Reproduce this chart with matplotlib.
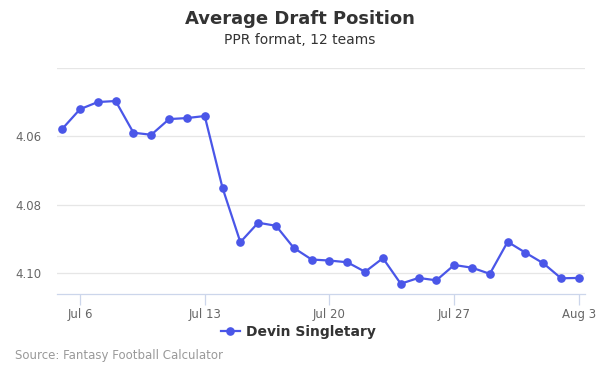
import matplotlib
matplotlib.use('Agg')
import matplotlib.pyplot as plt
from matplotlib.lines import Line2D

# Data (day 0 = Jul 5)
days = list(range(30))
adp = [4.0578, 4.0520, 4.0499, 4.0496, 4.0589, 4.0595, 4.0549, 4.0546, 4.0540, 4.0751,
       4.0910, 4.0853, 4.0862, 4.0927, 4.0961, 4.0964, 4.0969, 4.0997, 4.0957, 4.1032,
       4.1015, 4.1022, 4.0977, 4.0985, 4.1003, 4.0909, 4.0941, 4.0972, 4.1016, 4.1015]
tick_days = [1, 8, 15, 22, 29]
tick_labels = ['Jul 6', 'Jul 13', 'Jul 20', 'Jul 27', 'Aug 3']
y_ticks = [4.04, 4.06, 4.08, 4.10]
y_labels = ['', '4.06', '4.08', '4.10']
player = 'Devin Singletary'

line_color = '#4a56e8'

fig = plt.figure(figsize=(6, 3.75), dpi=100)
ax = fig.add_axes([57 / 600, 1 - 294.3 / 375, (585 - 57) / 600, (294.3 - 68.3) / 375])

ax.plot(days, adp, color=line_color, lw=1.6, marker='o', ms=5.2, zorder=3)

ax.set_xlim(-0.29, 29.34)
ax.set_ylim(4.1063, 4.04)

ax.set_yticks(y_ticks)
ax.set_yticklabels(y_labels)
ax.yaxis.grid(True, color='#e6e6e6', lw=0.9)
ax.tick_params(axis='y', length=0, labelsize=8.5, labelcolor='#666666', pad=11)

ax.set_xticks(tick_days)
ax.set_xticklabels(tick_labels)
ax.tick_params(axis='x', length=8, color='#ccd6eb', width=0.9, labelsize=8.5,
               labelcolor='#666666', pad=2)

for s in ['top', 'right', 'left']:
    ax.spines[s].set_visible(False)
ax.spines['bottom'].set_color('#ccd6eb')
ax.spines['bottom'].set_linewidth(0.9)

fig.text(0.5, 1 - 19 / 375, 'Average Draft Position', ha='center', va='center',
         fontsize=13, fontweight='bold', color='#333333')
fig.text(0.5, 1 - 40 / 375, 'PPR format, 12 teams', ha='center', va='center',
         fontsize=10, color='#333333')

handle = Line2D([0], [0], color=line_color, lw=1.6, marker='o', ms=5.2)
fig.legend([handle], [player], loc='center', bbox_to_anchor=(0.497, 1 - 332 / 375),
           frameon=False, handlelength=1.4, handletextpad=0.4,
           prop={'weight': 'bold', 'size': 10}, labelcolor='#333333')

fig.text(15 / 600, 1 - 356 / 375, 'Source: Fantasy Football Calculator', ha='left',
         va='center', fontsize=8.5, color='#999999')

fig.savefig('out.png', dpi=100)
